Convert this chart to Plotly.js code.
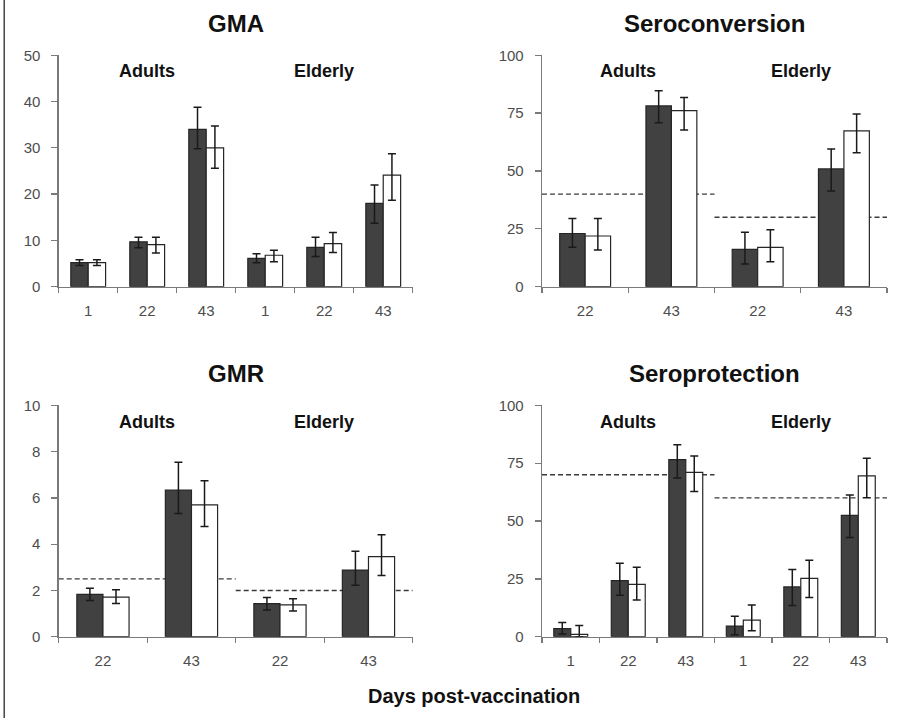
<!DOCTYPE html>
<html>
<head>
<meta charset="utf-8">
<script src="https://cdn.plot.ly/plotly-3.0.1.min.js"></script>
<style>html,body{margin:0;padding:0;background:#fff;}#chart{width:899px;height:718px;}</style>
</head>
<body>
<div id="chart"></div>
<script>
// ---------- DATA ----------
const groups = ["Adults", "Elderly"];

// GMA
const gmaDays = ["1", "22", "43", "1", "22", "43"];
const gmaDark = [5.2, 9.7, 34.0, 6.1, 8.5, 18.0];
const gmaDarkPlus = [0.6, 1.0, 4.8, 1.0, 2.2, 4.0];
const gmaDarkMinus = [0.6, 1.3, 4.2, 0.9, 2.0, 4.3];
const gmaWhite = [5.2, 9.1, 30.0, 6.8, 9.3, 24.1];
const gmaWhitePlus = [0.6, 1.6, 4.7, 1.1, 2.4, 4.6];
const gmaWhiteMinus = [0.6, 1.8, 4.4, 1.4, 1.9, 5.4];

// Seroconversion
const scDays = ["22", "43", "22", "43"];
const scDark = [23.0, 78.1, 16.1, 50.9];
const scDarkPlus = [6.5, 6.6, 7.4, 8.6];
const scDarkMinus = [6.0, 7.2, 6.3, 9.5];
const scWhite = [21.9, 76.1, 17.0, 67.3];
const scWhitePlus = [7.6, 5.7, 7.6, 7.3];
const scWhiteMinus = [6.0, 8.4, 6.2, 9.4];
const scThreshold = [40, 30];

// GMR
const gmrDays = ["22", "43", "22", "43"];
const gmrDark = [1.83, 6.34, 1.43, 2.88];
const gmrDarkPlus = [0.26, 1.2, 0.27, 0.81];
const gmrDarkMinus = [0.27, 1.02, 0.28, 0.66];
const gmrWhite = [1.71, 5.70, 1.38, 3.46];
const gmrWhitePlus = [0.32, 1.04, 0.26, 0.95];
const gmrWhiteMinus = [0.27, 0.94, 0.27, 0.81];
const gmrThreshold = [2.5, 2.0];

// Seroprotection
const spDays = ["1", "22", "43", "1", "22", "43"];
const spDark = [3.5, 24.2, 76.5, 4.6, 21.5, 52.4];
const spDarkPlus = [2.6, 7.5, 6.5, 4.3, 7.6, 8.8];
const spDarkMinus = [2.3, 6.3, 7.9, 3.7, 8.0, 9.5];
const spWhite = [1.0, 22.6, 71.0, 7.2, 25.2, 69.5];
const spWhitePlus = [3.9, 7.4, 7.1, 6.5, 7.8, 7.6];
const spWhiteMinus = [1.0, 6.7, 8.2, 4.6, 8.2, 9.4];
const spThreshold = [70, 60];

// ---------- STYLE ----------
const FONT = "Liberation Sans, Arial, sans-serif";
const DARK = "#414141";
const EDGE = "#262626";
const AXIS = "#7a7a7a";
const ERR = {thickness: 1.5, width: 4, color: "#1a1a1a"};
const W = 899, H = 718;

const panels = [
  {title: "GMA", days: gmaDays, dark: gmaDark, dp: gmaDarkPlus, dm: gmaDarkMinus,
   white: gmaWhite, wp: gmaWhitePlus, wm: gmaWhiteMinus, thr: null, range: [0, 50], dtick: 10,
   xd: [0.0653, 0.4591], yd: [0.6007, 0.923]},
  {title: "Seroconversion", days: scDays, dark: scDark, dp: scDarkPlus, dm: scDarkMinus,
   white: scWhite, wp: scWhitePlus, wm: scWhiteMinus, thr: scThreshold, range: [0, 100], dtick: 25,
   xd: [0.6029, 0.9867], yd: [0.6007, 0.923]},
  {title: "GMR", days: gmrDays, dark: gmrDark, dp: gmrDarkPlus, dm: gmrDarkMinus,
   white: gmrWhite, wp: gmrWhitePlus, wm: gmrWhiteMinus, thr: gmrThreshold, range: [0, 10], dtick: 2,
   xd: [0.0653, 0.4591], yd: [0.1132, 0.4355]},
  {title: "Seroprotection", days: spDays, dark: spDark, dp: spDarkPlus, dm: spDarkMinus,
   white: spWhite, wp: spWhitePlus, wm: spWhiteMinus, thr: spThreshold, range: [0, 100], dtick: 25,
   xd: [0.6029, 0.9867], yd: [0.1132, 0.4355]}
];

const traces = [];
const layout = {
  width: W, height: H,
  margin: {l: 0, r: 0, t: 0, b: 0},
  paper_bgcolor: "#fff", plot_bgcolor: "#fff",
  showlegend: false,
  barmode: "group", bargap: 0.41, bargroupgap: 0,
  font: {family: FONT, color: "#000"},
  annotations: [], shapes: []
};

panels.forEach((p, i) => {
  const n = i + 1;
  const xa = n === 1 ? "x" : "x" + n;
  const ya = n === 1 ? "y" : "y" + n;
  const lab = n + 4;               // overlaying axis that carries the day labels
  const xs = p.days.map((d, k) => k);
  traces.push({type: "bar", x: xs, y: p.dark, xaxis: xa, yaxis: ya,
    marker: {color: DARK, line: {color: EDGE, width: 1.2}},
    error_y: Object.assign({type: "data", array: p.dp, arrayminus: p.dm, symmetric: false}, ERR),
    hoverinfo: "skip"});
  traces.push({type: "bar", x: xs, y: p.white, xaxis: xa, yaxis: ya,
    marker: {color: "#ffffff", line: {color: EDGE, width: 1.2}},
    error_y: Object.assign({type: "data", array: p.wp, arrayminus: p.wm, symmetric: false}, ERR),
    hoverinfo: "skip"});
  traces.push({type: "scatter", mode: "markers", x: [], y: [], xaxis: "x" + lab, yaxis: ya,
    hoverinfo: "skip", showlegend: false});

  const nc = p.days.length;
  const per = nc / groups.length;
  const bounds = [];
  for (let k = 0; k <= nc; k++) bounds.push(k - 0.5);

  // base axis: line + tick marks on category boundaries
  layout["xaxis" + (n === 1 ? "" : n)] = {
    domain: p.xd, anchor: ya, range: [-0.5, nc - 0.5], fixedrange: true,
    tickmode: "array", tickvals: bounds, showticklabels: false,
    ticks: "outside", ticklen: 5, tickwidth: 1.3, tickcolor: AXIS,
    showline: true, linecolor: AXIS, linewidth: 1.3,
    showgrid: false, zeroline: false
  };
  // label axis: day labels centred under categories
  layout["xaxis" + lab] = {
    overlaying: xa, anchor: ya, range: [-0.5, nc - 0.5], fixedrange: true,
    tickmode: "array", tickvals: xs, ticktext: p.days, ticks: "",
    showline: false, showgrid: false, zeroline: false,
    tickfont: {family: FONT, size: 15, color: "#4d4d4d"},
    ticklabelstandoff: 13
  };
  layout["yaxis" + (n === 1 ? "" : n)] = {
    domain: p.yd, anchor: xa, range: p.range, fixedrange: true,
    tickmode: "linear", tick0: 0, dtick: p.dtick, ticks: "outside", ticklen: 6,
    tickwidth: 1.3, tickcolor: AXIS,
    showline: true, linecolor: AXIS, linewidth: 1.3,
    showgrid: false, zeroline: false,
    tickfont: {family: FONT, size: 15, color: "#4d4d4d"},
    ticklabelstandoff: 8
  };

  // panel title
  layout.annotations.push({xref: "paper", yref: "paper",
    x: (p.xd[0] + p.xd[1]) / 2, y: p.yd[1] + 0.044, xanchor: "center", yanchor: "middle",
    text: "<b>" + p.title + "</b>", showarrow: false,
    font: {family: FONT, size: 24, color: "#111"}});
  // group labels
  groups.forEach((g, gi) => {
    layout.annotations.push({xref: xa, yref: ya + " domain",
      x: gi * per + (per - 1) / 2, y: 0.93, xanchor: "center", yanchor: "middle",
      text: "<b>" + g + "</b>", showarrow: false,
      font: {family: FONT, size: 18, color: "#111"}});
    if (p.thr) {
      layout.shapes.push({type: "line", layer: "below", xref: xa, yref: ya,
        x0: gi * per - 0.5, x1: (gi + 1) * per - 0.5, y0: p.thr[gi], y1: p.thr[gi],
        line: {color: "#3a3a3a", width: 1.4, dash: "5px,3px"}});
    }
  });
});

// common x title
layout.annotations.push({xref: "paper", yref: "paper", x: 0.527, y: 0.03,
  xanchor: "center", yanchor: "middle", text: "<b>Days post-vaccination</b>", showarrow: false,
  font: {family: FONT, size: 20, color: "#111"}});

// left frame line of the figure
layout.shapes.push({type: "line", xref: "paper", yref: "paper", x0: 0.0047, x1: 0.0047, y0: 0, y1: 1,
  line: {color: "#444", width: 1.5}});

Plotly.newPlot("chart", traces, layout, {displayModeBar: false, staticPlot: true});
</script>
</body>
</html>
